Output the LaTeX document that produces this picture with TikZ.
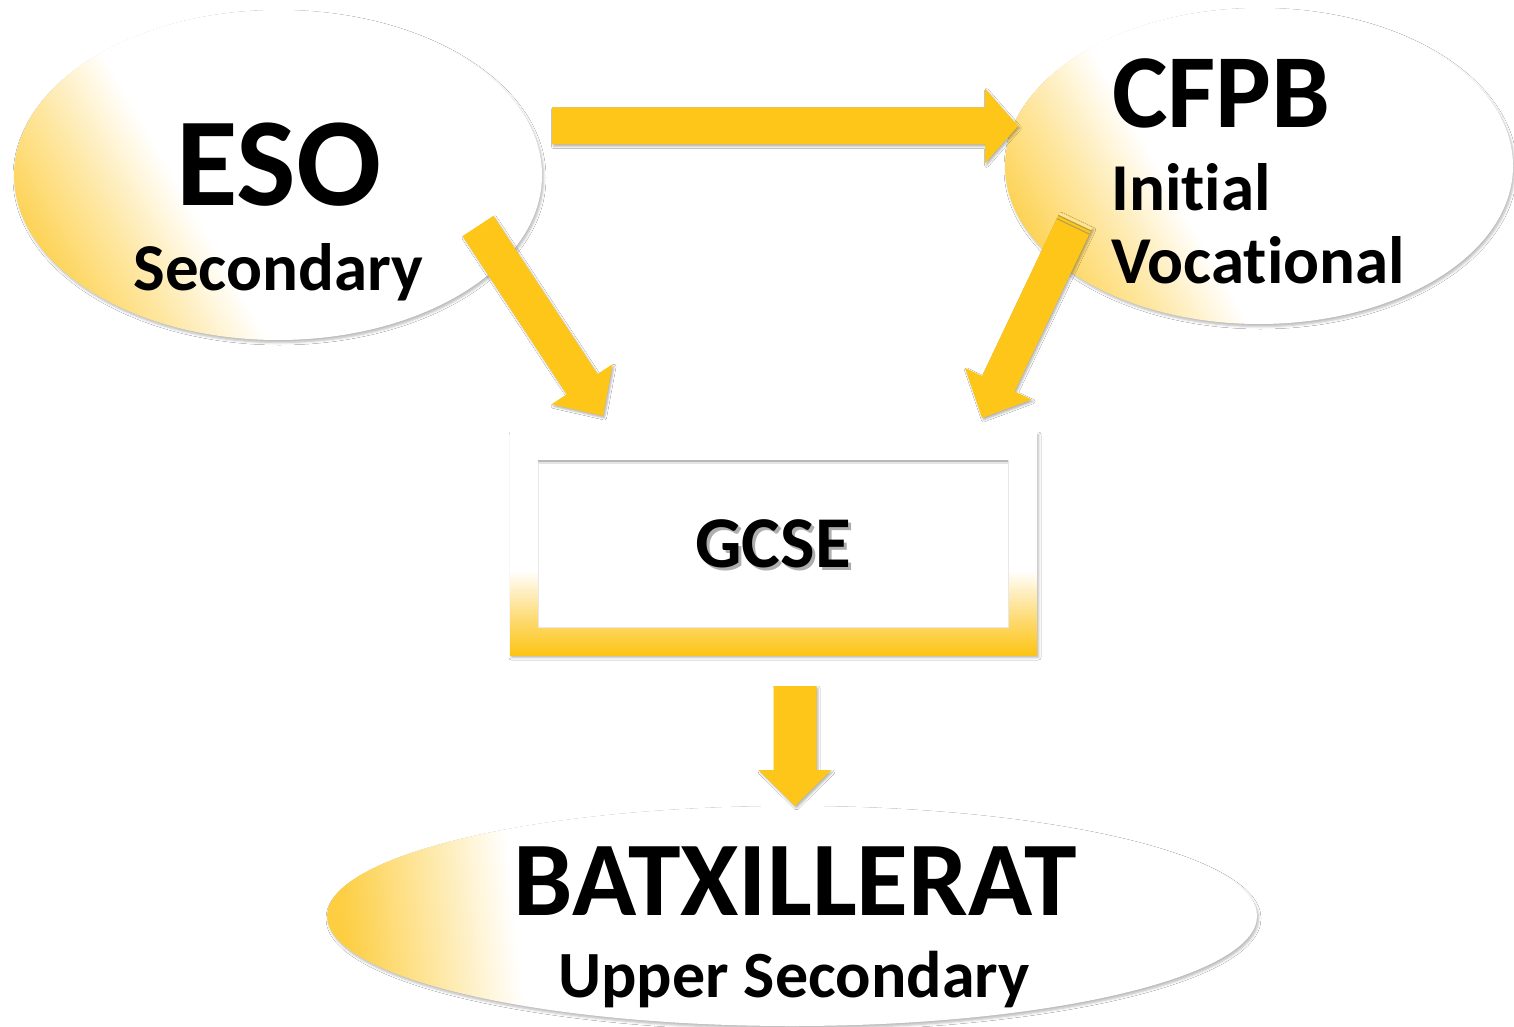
\documentclass[tikz,border=0pt]{standalone}
\usepackage{fontspec}
\setmainfont{Carlito}[Ligatures=NoCommon]
\usetikzlibrary{shapes.geometric,calc,shadows.blur}
\definecolor{ylw}{RGB}{253,206,66}
\definecolor{arrowyel}{RGB}{253,198,24}
\definecolor{boxyel}{RGB}{253,196,20}
\pgfdeclarehorizontalshading{ellshade}{100bp}{color(0bp)=(ylw); color(21bp)=(ylw); color(31bp)=(ylw!50!white); color(40bp)=(white); color(100bp)=(white)}
\pgfdeclarehorizontalshading{batshade}{100bp}{color(0bp)=(ylw); color(24bp)=(ylw); color(29bp)=(ylw!50!white); color(34bp)=(white); color(100bp)=(white)}
\pgfdeclareverticalshading{boxshade}{100bp}{color(0bp)=(boxyel); color(25bp)=(boxyel); color(33bp)=(ylw!75!white); color(44bp)=(white); color(100bp)=(white)}
\newcommand\myfs[1]{\fontsize{#1}{#1}\selectfont\bfseries}
% #1 start, #2 end, #3 shaft half width, #4 head half width, #5 head length
\newcommand\blockarrow[5]{%
  \fill[arrowyel, blur shadow={shadow xshift=1.5pt, shadow yshift=-2pt, shadow opacity=30, shadow blur radius=2pt}]
    ($(#1)!#3!90:(#2)$) -- ($(#2)!#5!(#1)!#3!-90:(#1)$) -- ($(#2)!#5!(#1)!#4!-90:(#1)$)
    -- (#2) -- ($(#2)!#5!(#1)!#4!90:(#1)$) -- ($(#2)!#5!(#1)!#3!90:(#1)$)
    -- ($(#1)!#3!-90:(#2)$) -- cycle;}
\tikzset{
  ell/.style={ellipse, inner sep=0, shade,
    blur shadow={shadow xshift=1.5pt, shadow yshift=-2.5pt, shadow opacity=28, shadow blur radius=2.5pt}},
  lbl/.style={inner sep=0, anchor=base, text=black},
}
\begin{document}
\begin{tikzpicture}[x=1pt,y=-1pt]
\useasboundingbox[fill=white] (0,0) rectangle (1514,1027);

% ellipses
\node[ell, shading=ellshade, shading angle=30, minimum width=528pt, minimum height=330pt] (eso) at (278,175) {};
\node[ell, shading=ellshade, shading angle=30, minimum width=508pt, minimum height=316pt] (cfpb) at (1259,166) {};
\node[ell, shading=batshade, shading angle=6, minimum width=930pt, minimum height=220pt] (batx) at (792,916) {};

% GCSE box
\node[shade, shading=boxshade, minimum width=527pt, minimum height=223pt, inner sep=0,
  blur shadow={shadow xshift=1.5pt, shadow yshift=-2.5pt, shadow opacity=30, shadow blur radius=2.5pt}] (gcsebox) at (773.5,543.5) {};
\node[fill=white, draw=gray!18, line width=0.8pt, minimum width=470pt, minimum height=167pt, inner sep=0] (gcseinner) at (773,543.5) {};
\draw[gray!55, line width=2.5pt] ([yshift=-1.2pt]gcseinner.north west) -- ([yshift=-1.2pt]gcseinner.north east);
\draw[gray!20, line width=2pt] ([yshift=-3.5pt]gcseinner.north west) -- ([yshift=-3.5pt]gcseinner.north east);

% arrow end points
\coordinate (a1s) at (552,126);  \coordinate (a1e) at (1018,126);
\coordinate (a2s) at (478,226);  \coordinate (a2e) at (603,416);
\coordinate (a3s) at (1076,220); \coordinate (a3e) at (982,418);
\coordinate (a4s) at (795,686);  \coordinate (a4e) at (795,806);

\blockarrow{a1s}{a1e}{18.5pt}{37.5pt}{33pt}
\blockarrow{a2s}{a2e}{18.5pt}{36.5pt}{38pt}
\blockarrow{a3s}{a3e}{18pt}{37pt}{38pt}
\blockarrow{a4s}{a4e}{21.5pt}{36.5pt}{36pt}

% stripes at the top of the CFPB arrow
\draw[arrowyel!45!white, line width=2.5pt] ($(a3s)!1.3pt!(a3e)!18pt!90:(a3e)$) -- ($(a3s)!1.3pt!(a3e)!18pt!-90:(a3e)$);
\draw[gray!60!arrowyel, line width=1pt] ($(a3s)!3.5pt!(a3e)!18pt!90:(a3e)$) -- ($(a3s)!3.5pt!(a3e)!18pt!-90:(a3e)$);
\draw[gray!60!arrowyel, line width=1pt] ($(a3s)!7pt!(a3e)!18pt!90:(a3e)$) -- ($(a3s)!7pt!(a3e)!18pt!-90:(a3e)$);

% texts
\node[lbl, font=\myfs{126}] (esot) at (279,205) {ESO};
\node[lbl, font=\myfs{67}] (esos) at (278.5,290) {Secondary};
\node[lbl, anchor=base west, font=\myfs{105}] (cfpbt) at (1112,128) {CFPB};
\node[lbl, anchor=base west, font=\myfs{67}] (cfpbi) at (1111,210) {Initial};
\node[lbl, anchor=base west, font=\myfs{67}] (cfpbv) at (1111,283) {Vocational};
\node[lbl, font=\myfs{73}, text=black!70, opacity=0.45] (gcseshadow) at (776,570) {GCSE};
\node[lbl, font=\myfs{73}] (gcse) at (773,567) {GCSE};
\node[lbl, font=\myfs{106}] (batxt) at (795,915) {BATXILLERAT};
\node[lbl, font=\myfs{66}] (batxs) at (794,997) {Upper Secondary};
\end{tikzpicture}
\end{document}
